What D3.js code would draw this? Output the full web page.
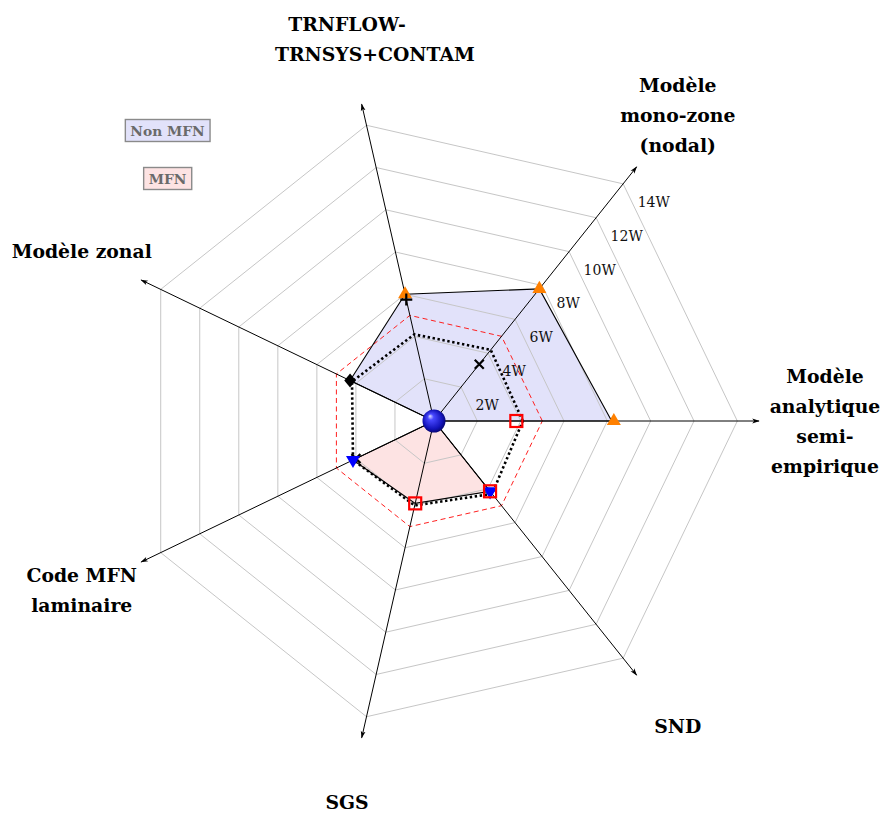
<!DOCTYPE html>
<html><head><meta charset="utf-8">
<script src="https://cdn.jsdelivr.net/npm/d3@7"></script>
<style>body{margin:0;background:#fff}</style>
</head><body>
<svg id="chart" width="885" height="814"></svg>
<script>
// ---- data ----
const axisLabels = [
  ["Modèle", "analytique", "semi-", "empirique"],
  ["Modèle", "mono-zone", "(nodal)"],
  ["TRNFLOW-", "TRNSYS+CONTAM"],
  ["Modèle zonal"],
  ["Code MFN", "laminaire"],
  ["SGS"],
  ["SND"]
];
const tickValues = [2, 4, 6, 8, 10, 12, 14];
const tickLabels = ["2W", "4W", "6W", "8W", "10W", "12W", "14W"];
const legendLabels = ["Non MFN", "MFN"];
const nonMfnValues = [8.2, 7.8, 6.0, 4.3, 0, 0, 0];
const mfnValues = [0, 0, 0, 0, 4.15, 3.9, 4.15];
const dottedValues = [4.1, 4.2, 4.1, 4.2, 4.15, 4.0, 4.3];
const dashedValues = [5, 5, 5, 5, 5, 5, 5];
const orangeTriangleValues = [8.3, 7.8, 6.0, null, null, null, null];
const plusValues = [null, null, 5.75, null, null, null, null];
const crossValues = [null, 3.35, null, null, 4.0, null, null];
const diamondValues = [null, null, null, 4.3, null, null, null];
const blueTriangleValues = [null, null, null, null, 4.15, null, 4.15];
const redSquareValues = [3.8, null, null, null, null, 3.9, 4.15];
const axisMax = 15;

// ---- layout ----
const W = 885, H = 814, cx = 434, cy = 421;
const svg = d3.select("#chart");
const r = d3.scaleLinear().domain([0, axisMax]).range([0, 325]);
const n = axisLabels.length;
const ang = i => i * 2 * Math.PI / n;
const pt = (i, v) => [cx + r(v) * Math.cos(ang(i)), cy - r(v) * Math.sin(ang(i))];
const closed = d3.line().curve(d3.curveLinearClosed);
const SERIF = "'DejaVu Serif', serif";

const defs = svg.append("defs");
defs.append("marker").attr("id", "arrow").attr("viewBox", "0 -4 10 8")
  .attr("refX", 9).attr("refY", 0).attr("markerWidth", 8).attr("markerHeight", 6)
  .attr("markerUnits", "userSpaceOnUse").attr("orient", "auto")
  .append("path").attr("d", "M0,-3.2 L10,0 L0,3.2 L2.5,0 Z").attr("fill", "#000");
const grad = defs.append("radialGradient").attr("id", "ball")
  .attr("cx", "0.5").attr("cy", "0.5").attr("r", "0.6").attr("fx", "0.32").attr("fy", "0.28");
grad.append("stop").attr("offset", "0%").attr("stop-color", "#e0e0ff");
grad.append("stop").attr("offset", "22%").attr("stop-color", "#4848ff");
grad.append("stop").attr("offset", "70%").attr("stop-color", "#1212b8");
grad.append("stop").attr("offset", "100%").attr("stop-color", "#000048");

// fills
const fillNon = "#e2e2fa", fillMfn = "#fde3e3";
svg.append("path").attr("d", closed(nonMfnValues.map((v, i) => pt(i, v))))
  .attr("fill", fillNon).attr("stroke", "none");
svg.append("path").attr("d", closed(mfnValues.map((v, i) => pt(i, v))))
  .attr("fill", fillMfn).attr("stroke", "none");

// grid rings
svg.append("g").selectAll("path").data(tickValues).join("path")
  .attr("d", t => closed(d3.range(n).map(i => pt(i, t))))
  .attr("fill", "none").attr("stroke", "#c6c6c6").attr("stroke-width", 1);

// red dashed reference
svg.append("path").attr("d", closed(dashedValues.map((v, i) => pt(i, v))))
  .attr("fill", "none").attr("stroke", "#ff2020").attr("stroke-width", 1)
  .attr("stroke-dasharray", "5 3.5");

// polygon outlines
[nonMfnValues, mfnValues].forEach(vals => {
  svg.append("path").attr("d", closed(vals.map((v, i) => pt(i, v))))
    .attr("fill", "none").attr("stroke", "#000").attr("stroke-width", 1.1);
});

// axes
svg.append("g").selectAll("line").data(d3.range(n)).join("line")
  .attr("x1", cx).attr("y1", cy)
  .attr("x2", i => pt(i, axisMax)[0]).attr("y2", i => pt(i, axisMax)[1])
  .attr("stroke", "#000").attr("stroke-width", 1).attr("marker-end", "url(#arrow)");

// black dotted
svg.append("path").attr("d", closed(dottedValues.map((v, i) => pt(i, v))))
  .attr("fill", "none").attr("stroke", "#000").attr("stroke-width", 2.6)
  .attr("stroke-dasharray", "2.4 2.6");

// tick labels along axis 1
svg.append("g").selectAll("text").data(tickValues).join("text")
  .attr("x", (t) => pt(1, t)[0] + 14.5).attr("y", (t) => pt(1, t)[1] + 23)
  .attr("font-family", SERIF).attr("font-size", 14).attr("fill", "#111")
  .text((t, k) => tickLabels[k]);

// markers
const mk = svg.append("g");
const each = (vals, fn) => vals.forEach((v, i) => { if (v != null) fn(pt(i, v)); });
const triR = 8.1;
each(orangeTriangleValues, ([x, y]) => mk.append("path")
  .attr("d", `M${x},${y - triR} L${x + triR * 0.866},${y + triR / 2} L${x - triR * 0.866},${y + triR / 2} Z`)
  .attr("fill", "#ff8000"));
each(plusValues, ([x, y]) => mk.append("path")
  .attr("d", `M${x - 6},${y} H${x + 6} M${x},${y - 6} V${y + 6}`)
  .attr("stroke", "#000").attr("stroke-width", 2.2));
each(crossValues, ([x, y]) => mk.append("path")
  .attr("d", `M${x - 4.5},${y - 4.5} L${x + 4.5},${y + 4.5} M${x - 4.5},${y + 4.5} L${x + 4.5},${y - 4.5}`)
  .attr("stroke", "#000").attr("stroke-width", 2.2));
each(diamondValues, ([x, y]) => mk.append("path")
  .attr("d", `M${x},${y - 7} L${x + 5.8},${y} L${x},${y + 7} L${x - 5.8},${y} Z`)
  .attr("fill", "#000"));
each(blueTriangleValues, ([x, y]) => mk.append("path")
  .attr("d", `M${x},${y + triR} L${x + triR * 0.866},${y - triR / 2} L${x - triR * 0.866},${y - triR / 2} Z`)
  .attr("fill", "#0000ff"));
each(redSquareValues, ([x, y]) => mk.append("rect")
  .attr("x", x - 6).attr("y", y - 6).attr("width", 12).attr("height", 12)
  .attr("fill", "none").attr("stroke", "#ff0000").attr("stroke-width", 2.2));
svg.append("circle").attr("cx", cx).attr("cy", cy).attr("r", 11.5).attr("fill", "url(#ball)");

// axis labels
const labR = 391, lineH = 30;
axisLabels.forEach((lines, i) => {
  const ax = cx + labR * Math.cos(ang(i)), ay = cy - labR * Math.sin(ang(i));
  const t = svg.append("text").attr("font-family", SERIF).attr("font-weight", "bold")
    .attr("font-size", 18.8).attr("fill", "#000");
  lines.forEach((s, k) => {
    const y = ay + (k - (lines.length - 1) / 2) * lineH + 6.5;
    const overflow = (i === 2 && k === 1);
    t.append("tspan").attr("x", overflow ? ax - 72 : ax).attr("y", y)
      .attr("text-anchor", overflow ? "start" : "middle").text(s);
  });
});

// legend
const legend = [
  {label: legendLabels[0], fill: fillNon, x: 167.5, y: 130.5},
  {label: legendLabels[1], fill: fillMfn, x: 167.5, y: 178.5}
];
legend.forEach(d => {
  const g = svg.append("g");
  const t = g.append("text").attr("x", d.x).attr("y", d.y + 5).attr("text-anchor", "middle")
    .attr("font-family", SERIF).attr("font-weight", "bold").attr("font-size", 13.8)
    .attr("fill", "#6a6a6a").text(d.label);
  const bb = t.node().getBBox();
  g.insert("rect", "text").attr("x", bb.x - 5).attr("y", d.y - 11).attr("width", bb.width + 10)
    .attr("height", 22).attr("fill", d.fill).attr("stroke", "#8a8a8a").attr("stroke-width", 1.4);
});
</script>
</body></html>
